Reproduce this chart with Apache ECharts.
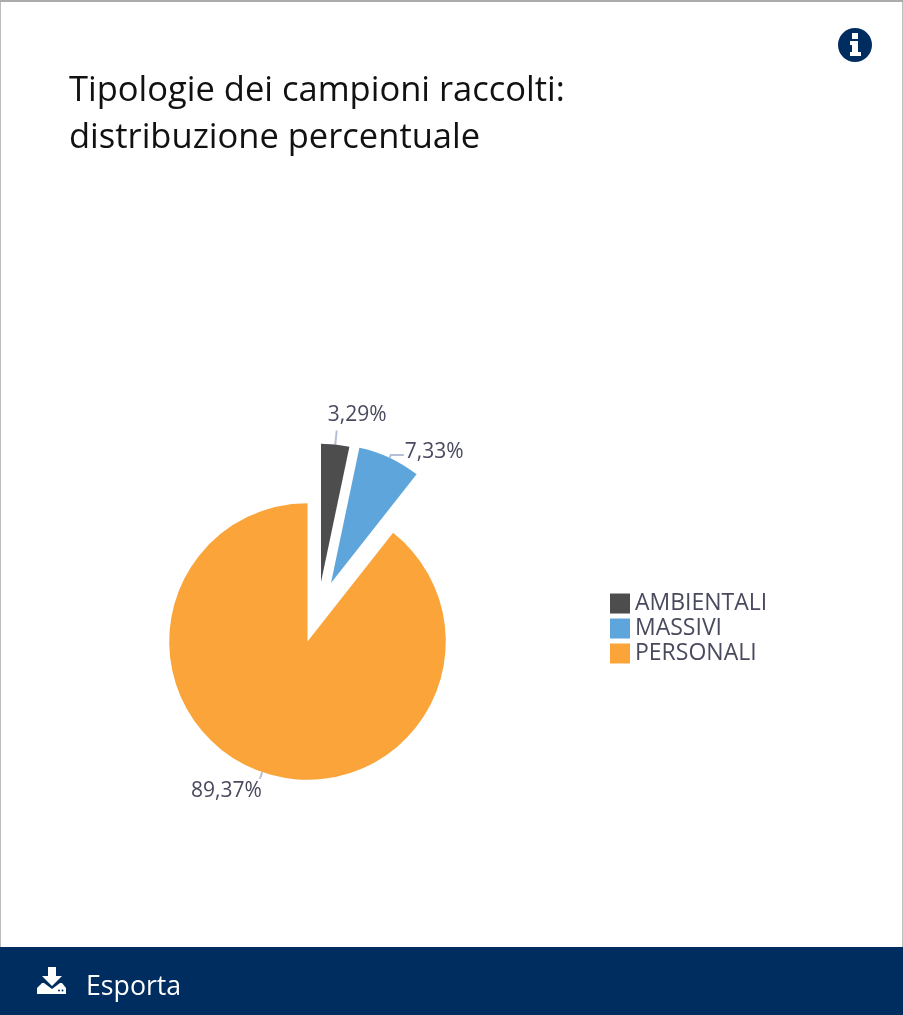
<!DOCTYPE html>
<html><head><meta charset="utf-8">
<style>html,body{margin:0;padding:0;background:#fff}#c{width:903px;height:1015px}</style>
<script src="https://cdn.jsdelivr.net/npm/echarts@6/dist/echarts.min.js"></script>
</head><body><div id="c"></div>
<script>
const categories = ['AMBIENTALI', 'MASSIVI', 'PERSONALI'];
const values = [3.29, 7.33, 89.37];
const colors = ['#4D4D4D', '#5DA5DA', '#FAA43A'];
const centers = [[321, 582], [331, 583], [307.5, 641.5]];
const lineLengths = [[14, 0], [3, 13], [7, 0]];
const labelShifts = [{dx: -14, dy: -15}, {dx: -4, dy: -3}, {dx: 7, dy: 12}];
const titleText = 'Tipologie dei campioni raccolti:\ndistribuzione percentuale';
const FONT = '"Open Sans"';
const NAVY = '#002D5F';
const fmt = v => v.toFixed(2).replace('.', ',') + '%';

const series = categories.map((own, s) => ({
  type: 'pie',
  silent: true,
  animation: false,
  radius: [0, 138.3],
  center: centers[s],
  startAngle: 90,
  clockwise: true,
  minAngle: 0,
  avoidLabelOverlap: false,
  emphasis: {disabled: true},
  labelLayout: labelShifts[s],
  data: categories.map((name, i) => ({
    name, value: values[i],
    itemStyle: {color: i === s ? colors[i] : 'rgba(0,0,0,0)'},
    label: {show: i === s},
    labelLine: {show: i === s}
  })),
  label: {
    position: 'outside',
    fontFamily: FONT, fontSize: 21, color: '#4A4A5E',
    formatter: p => fmt(p.value)
  },
  labelLine: {length: lineLengths[s][0], length2: lineLengths[s][1], lineStyle: {color: '#B4C0D6', width: 2}}
}));

const chart = echarts.init(document.getElementById('c'), null, {renderer: 'canvas'});
chart.setOption({
  animation: false,
  backgroundColor: '#fff',
  title: {
    text: titleText, left: 64, top: 63,
    textStyle: {fontFamily: FONT, fontSize: 34.5, fontWeight: 'normal', color: '#111', lineHeight: 47}
  },
  legend: {
    orient: 'vertical', left: 605, top: 587,
    itemWidth: 20, itemHeight: 20, itemGap: 2,
    selectedMode: false,
    icon: 'rect',
    textStyle: {fontFamily: FONT, fontSize: 23, lineHeight: 20, color: '#4A4A5E'},
    data: categories.map((name, i) => ({name, icon: 'rect', itemStyle: {color: colors[i]}}))
  },
  series,
  graphic: [
    {type: 'rect', silent: true, z: 0, shape: {x: 0.5, y: 1, width: 902, height: 950}, style: {fill: 'none', stroke: '#BDBDBD', lineWidth: 1}},
    {type: 'rect', silent: true, z: 0, shape: {x: 0, y: 0, width: 903, height: 2}, style: {fill: '#ABABAB'}},
    {type: 'rect', silent: true, z: 1, shape: {x: 0, y: 947, width: 903, height: 68}, style: {fill: NAVY}},
    {type: 'text', silent: true, z: 2, left: 86, top: 974, style: {text: 'Esporta', fill: '#fff', font: '26.7px ' + FONT}},
    {type: 'polygon', silent: true, z: 2, shape: {points: [[48, 967], [56, 967], [56, 976], [62, 976], [52, 986], [42, 976], [48, 976]]}, style: {fill: '#fff'}},
    {type: 'polygon', silent: true, z: 2, shape: {points: [[42, 983], [44, 983], [52, 989], [60, 983], [62, 983], [66, 988], [66, 994], [37, 994], [37, 988]]}, style: {fill: '#fff'}},
    {type: 'circle', silent: true, z: 3, shape: {cx: 59, cy: 990.5, r: 1}, style: {fill: NAVY}},
    {type: 'circle', silent: true, z: 3, shape: {cx: 62.5, cy: 990.5, r: 1}, style: {fill: NAVY}},
    {type: 'circle', silent: true, z: 2, shape: {cx: 855, cy: 45, r: 17}, style: {fill: NAVY}},
    {type: 'rect', silent: true, z: 3, shape: {x: 852, y: 33, width: 6, height: 6}, style: {fill: '#fff'}},
    {type: 'polygon', silent: true, z: 3, shape: {points: [[850, 41], [858, 41], [858, 52], [861, 52], [861, 56], [850, 56], [850, 52], [852, 52], [852, 45], [850, 45]]}, style: {fill: '#fff'}}
  ]
});
</script></body></html>
